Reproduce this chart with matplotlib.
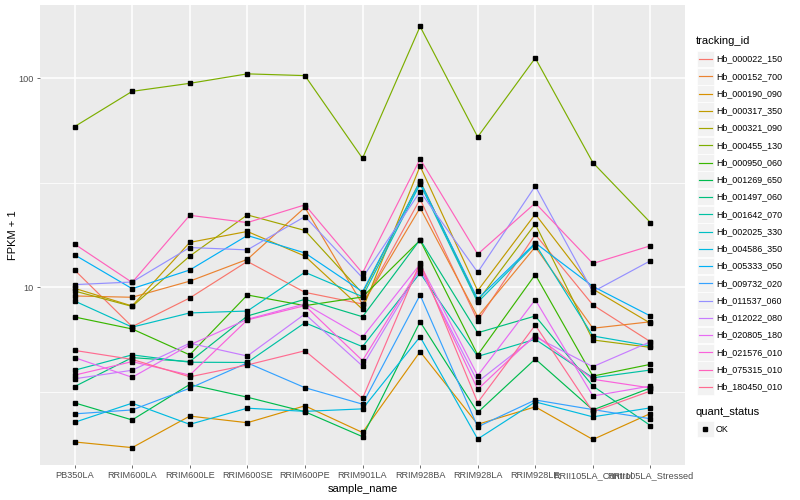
import matplotlib
matplotlib.use("Agg")
import matplotlib.pyplot as plt
from matplotlib.lines import Line2D
from matplotlib.patches import Rectangle
from matplotlib.ticker import FixedLocator, NullFormatter

plt.rcParams['font.family'] = ['Liberation Sans', 'DejaVu Sans']

samples = ["PB350LA", "RRIM600LA", "RRIM600LE", "RRIM600SE", "RRIM600PE",
           "RRIM901LA", "RRIM928BA", "RRIM928LA", "RRIM928LE",
           "RRII105LA_Control", "RRII105LA_Stressed"]

tracking_ids = ["Hb_000022_150", "Hb_000152_700", "Hb_000190_090", "Hb_000317_350",
                "Hb_000321_090", "Hb_000455_130", "Hb_000950_060", "Hb_001269_650",
                "Hb_001497_060", "Hb_001642_070", "Hb_002025_330", "Hb_004586_350",
                "Hb_005333_050", "Hb_009732_020", "Hb_011537_060", "Hb_012022_080",
                "Hb_020805_180", "Hb_021576_010", "Hb_075315_010", "Hb_180450_010"]

colors = ["#F8766D", "#EA8331", "#D89000", "#C09B00", "#A3A500", "#7CAE00",
          "#39B600", "#00BB4E", "#00BF7D", "#00C1A3", "#00BFC4", "#00BAE0",
          "#00B0F6", "#35A2FF", "#9590FF", "#C77CFF", "#E76BF3", "#FA62DB",
          "#FF62BC", "#FF6C91"]

# FPKM + 1 per sample (order of `samples`)
hb_000022_150 = [12.1, 6.48, 8.89, 13.3, 9.46, 8.32, 26.4, 6.92, 17.9, 8.23, 5.49]
hb_000152_700 = [9.09, 8.96, 10.7, 13.6, 24.1, 8.29, 24.0, 7.23, 15.6, 6.37, 6.84]
hb_000190_090 = [1.82, 1.71, 2.42, 2.25, 2.71, 2.02, 4.92, 2.21, 2.68, 1.87, 2.49]
hb_000317_350 = [9.89, 8.14, 16.4, 18.5, 14.1, 7.85, 38.0, 9.63, 22.4, 9.81, 6.73]
hb_000321_090 = [9.60, 8.10, 14.1, 22.2, 18.7, 9.36, 32.3, 8.60, 20.1, 5.60, 5.16]
hb_000455_130 = [58.7, 86.6, 94.6, 105.0, 103.0, 41.4, 177.0, 52.4, 125.0, 39.5, 20.4]
hb_000950_060 = [7.21, 6.32, 4.75, 9.19, 8.17, 8.99, 16.8, 4.75, 11.5, 3.76, 4.28]
hb_001269_650 = [2.80, 2.32, 3.43, 2.98, 2.54, 1.93, 6.84, 2.52, 4.54, 2.59, 3.30]
hb_001497_060 = [3.35, 4.61, 4.41, 7.29, 8.76, 7.23, 16.9, 6.06, 7.29, 3.37, 2.18]
hb_001642_070 = [4.01, 4.75, 4.38, 4.37, 6.77, 5.20, 11.7, 4.67, 5.64, 3.69, 4.02]
hb_002025_330 = [8.60, 6.45, 7.54, 7.70, 11.8, 9.02, 31.2, 8.48, 16.1, 5.85, 5.24]
hb_004586_350 = [2.26, 2.79, 2.21, 2.64, 2.55, 2.62, 5.80, 1.88, 2.83, 2.40, 2.65]
hb_005333_050 = [14.3, 9.85, 12.1, 17.7, 14.6, 9.52, 32.0, 8.79, 16.3, 10.1, 7.29]
hb_009732_020 = [2.48, 2.59, 3.29, 4.35, 3.31, 2.76, 9.19, 2.15, 2.89, 2.60, 2.35]
hb_011537_060 = [10.3, 10.6, 15.5, 15.1, 21.8, 11.1, 28.7, 11.8, 30.5, 9.52, 13.4]
hb_012022_080 = [3.65, 4.01, 5.40, 4.69, 7.45, 4.20, 12.2, 3.53, 5.80, 4.17, 5.49]
hb_020805_180 = [4.61, 3.71, 5.30, 7.03, 8.32, 5.77, 12.9, 3.78, 8.72, 3.02, 3.37]
hb_021576_010 = [3.80, 4.41, 3.80, 6.98, 8.17, 4.46, 12.5, 3.25, 5.91, 3.63, 3.30]
hb_075315_010 = [16.1, 10.55, 22.1, 20.4, 24.8, 11.7, 41.1, 14.4, 25.3, 13.0, 15.8]
hb_180450_010 = [4.99, 4.52, 3.73, 4.25, 4.97, 2.94, 13.1, 2.81, 6.60, 2.54, 3.19]

series = [hb_000022_150, hb_000152_700, hb_000190_090, hb_000317_350, hb_000321_090,
          hb_000455_130, hb_000950_060, hb_001269_650, hb_001497_060, hb_001642_070,
          hb_002025_330, hb_004586_350, hb_005333_050, hb_009732_020, hb_011537_060,
          hb_012022_080, hb_020805_180, hb_021576_010, hb_075315_010, hb_180450_010]

W, H = 800, 500
fig = plt.figure(figsize=(8, 5), dpi=100)
fig.patch.set_facecolor("white")
L, R, T, B = 40, 685, 5, 465
ax = fig.add_axes([L / W, 1 - B / H, (R - L) / W, (B - T) / H])
ax.set_facecolor("#EBEBEB")
for s in ax.spines.values():
    s.set_visible(False)

x = list(range(len(samples)))
for vals, c in zip(series, colors):
    ax.plot(x, vals, color=c, lw=0.85, zorder=3, solid_joinstyle="miter")
for vals in series:
    ax.plot(x, vals, ls="none", marker="s", ms=2.7, color="black", zorder=4)

ax.set_yscale("log")
ax.set_ylim(1.412, 224.2)
ax.set_xlim(-0.6, len(samples) - 1 + 0.6)
ax.yaxis.set_major_locator(FixedLocator([10, 100]))
ax.yaxis.set_minor_locator(FixedLocator([10 ** 0.5, 10 ** 1.5]))
ax.yaxis.set_minor_formatter(NullFormatter())
ax.set_yticklabels(["10", "100"])
ax.set_xticks(x)
ax.set_xticklabels(samples)
ax.grid(True, which="major", color="white", lw=1.1, zorder=1)
ax.grid(True, which="minor", axis="y", color="white", lw=0.55, zorder=1)
ax.set_axisbelow(True)
ax.tick_params(axis="both", which="major", length=2.0, width=0.5, color="#333333",
               labelsize=6.6, labelcolor="#4D4D4D", pad=2.5)
ax.tick_params(axis="y", which="minor", length=0)
ax.set_xlabel("sample_name", fontsize=8, color="black", labelpad=3)
ax.set_ylabel("FPKM + 1", fontsize=8, color="black")
ax.yaxis.set_label_coords(-(L - 18) / (R - L), 0.5)

# legend (ggplot style)
def fx(px):
    return px / W

def fy(py):
    return 1 - py / H

fig.text(fx(696), fy(40.5), "tracking_id", fontsize=8, va="center", ha="left")
for i, (tid, c) in enumerate(zip(tracking_ids, colors)):
    yc = 59 + i * 17.25
    fig.patches.append(Rectangle((fx(697), fy(yc + 8.3)), 16.6 / W, 16.6 / H,
                                 transform=fig.transFigure, facecolor="#F2F2F2",
                                 edgecolor="white", lw=0.5))
    fig.lines.append(Line2D([fx(698.5), fx(712)], [fy(yc), fy(yc)],
                            transform=fig.transFigure, color=c, lw=0.85))
    fig.text(fx(716), fy(yc), tid, fontsize=6.4, va="center", ha="left", color="black")

fig.text(fx(696), fy(412), "quant_status", fontsize=8, va="center", ha="left")
yc = 429
fig.patches.append(Rectangle((fx(697), fy(yc + 8.3)), 16.6 / W, 16.6 / H,
                             transform=fig.transFigure, facecolor="#F2F2F2",
                             edgecolor="white", lw=0.5))
fig.lines.append(Line2D([fx(705)], [fy(yc)], transform=fig.transFigure,
                        ls="none", marker="s", ms=2.7, color="black"))
fig.text(fx(716), fy(yc), "OK", fontsize=6.4, va="center", ha="left", color="black")

fig.savefig("out.png", dpi=100)
